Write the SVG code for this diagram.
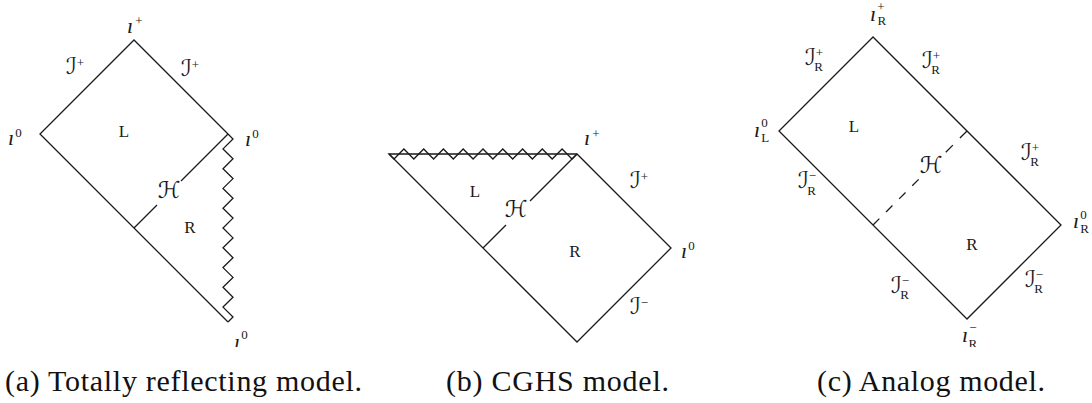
<svg xmlns="http://www.w3.org/2000/svg" width="1092" height="403" viewBox="0 0 1092 403">
<style>
.ln{fill:none;stroke:#1a1a1a;stroke-width:1.3;stroke-linejoin:miter;stroke-linecap:butt}
.dash{fill:none;stroke:#1a1a1a;stroke-width:1.3;stroke-dasharray:9 9.5}
.m{font-family:"Liberation Serif","Times New Roman",serif;font-size:17px;fill:#1a1a1a}
.it{font-family:"Liberation Serif","Times New Roman",serif;font-style:italic;font-size:22px;fill:#1a1a1a}
.cal{font-family:"DejaVu Serif","DejaVu Sans",serif;font-style:italic;font-size:23px;fill:#1a1a1a}
.s{font-family:"Liberation Serif","Times New Roman",serif;font-style:normal;font-size:13px;fill:#1a1a1a}
.cap{font-family:"Liberation Serif","Times New Roman",serif;font-size:30px;fill:#111}
</style>
<defs>
<clipPath id="clipfig"><rect x="0" y="0" width="1092" height="347"/></clipPath>
</defs>

<g id="connectors">
  <!-- (a) -->
  <polyline class="ln" points="228,134 134,40 40,134 228,322"/>
  <polyline class="ln" points="228,134 233,139 223,148.9 233,158.8 223,168.7 233,178.6 223,188.4 233,198.3 223,208.2 233,218.1 223,228 233,237.9 223,247.8 233,257.7 223,267.6 233,277.4 223,287.3 233,297.2 223,307.1 233,317 228,322"/>
  <line class="ln" x1="134" y1="228" x2="157" y2="205"/>
  <line class="ln" x1="181" y1="181" x2="228" y2="134"/>
  <!-- (b) -->
  <polyline class="ln" points="389,154 394,159 403.9,149 413.8,159 423.7,149 433.6,159 443.4,149 453.3,159 463.2,149 473.1,159 483,149 492.9,159 502.8,149 512.7,159 522.6,149 532.4,159 542.3,149 552.2,159 562.1,149 572,159 577,154"/>
  <polygon class="ln" points="389,154 577,342 671,248 577,154"/>
  <line class="ln" x1="483" y1="248" x2="506" y2="225"/>
  <line class="ln" x1="530" y1="201" x2="577" y2="154"/>
  <!-- (c) -->
  <polygon class="ln" points="873,37 779,131 967,319 1061,225"/>
  <line class="dash" x1="967" y1="131" x2="943" y2="155" style="stroke-dasharray:10 10"/>
  <line class="dash" x1="873" y1="225" x2="920" y2="178"/>
</g>

<g id="labels-a" clip-path="url(#clipfig)">
  <text id="a-iplus" class="it" x="127" y="33">ı<tspan class="s" dx="2" dy="-8">+</tspan></text>
  <text id="a-scriplus-left" class="cal" x="66" y="74">ℐ<tspan class="s" dy="-7">+</tspan></text>
  <text id="a-scriplus-right" class="cal" x="181" y="76">ℐ<tspan class="s" dy="-7">+</tspan></text>
  <text id="a-i0-left" class="it" x="8" y="145">ı<tspan class="s" dx="1" dy="-8">0</tspan></text>
  <text id="a-L" class="m" x="124" y="137" text-anchor="middle">L</text>
  <text id="a-i0-right" class="it" x="245" y="146">ı<tspan class="s" dx="1" dy="-8">0</tspan></text>
  <text id="a-H" class="cal" x="169" y="198" text-anchor="middle">ℋ</text>
  <text id="a-R" class="m" x="190" y="233" text-anchor="middle">R</text>
  <text id="a-i0-bottom" class="it" x="234" y="349">ı<tspan class="s" dx="1" dy="-10">0</tspan></text>
</g>

<g id="labels-b">
  <text id="b-iplus" class="it" x="584" y="145">ı<tspan class="s" dx="2" dy="-7">+</tspan></text>
  <text id="b-scriplus" class="cal" x="630" y="188">ℐ<tspan class="s" dy="-7">+</tspan></text>
  <text id="b-L" class="m" x="475" y="197" text-anchor="middle">L</text>
  <text id="b-H" class="cal" x="516" y="217" text-anchor="middle">ℋ</text>
  <text id="b-R" class="m" x="575" y="257" text-anchor="middle">R</text>
  <text id="b-i0" class="it" x="681" y="258">ı<tspan class="s" dx="1" dy="-8">0</tspan></text>
  <text id="b-scriminus" class="cal" x="630" y="314">ℐ<tspan class="s" dy="-7">−</tspan></text>
</g>

<g id="labels-c" clip-path="url(#clipfig)">
  <text id="c-iRplus" class="it" x="870" y="21">ı<tspan class="s" dx="1" dy="-10">+</tspan><tspan class="s" dx="-7" dy="14">R</tspan></text>
  <text id="c-scrRplus-left" class="cal" x="805" y="65">ℐ<tspan class="s" dy="-8">+</tspan><tspan class="s" dx="-9" dy="14">R</tspan></text>
  <text id="c-scrRplus-top" class="cal" x="922" y="68">ℐ<tspan class="s" dy="-8">+</tspan><tspan class="s" dx="-9" dy="14">R</tspan></text>
  <text id="c-iL0" class="it" x="754" y="137">ı<tspan class="s" dx="1" dy="-10">0</tspan><tspan class="s" dx="-6.5" dy="15">L</tspan></text>
  <text id="c-L" class="m" x="854" y="132" text-anchor="middle">L</text>
  <text id="c-scrRplus-right" class="cal" x="1021" y="160">ℐ<tspan class="s" dy="-8">+</tspan><tspan class="s" dx="-9" dy="14">R</tspan></text>
  <text id="c-scrRminus-left" class="cal" x="798" y="188">ℐ<tspan class="s" dy="-8">−</tspan><tspan class="s" dx="-9" dy="15">R</tspan></text>
  <text id="c-H" class="cal" x="931" y="173" text-anchor="middle">ℋ</text>
  <text id="c-iR0" class="it" x="1073" y="228">ı<tspan class="s" dx="1" dy="-9">0</tspan><tspan class="s" dx="-6.5" dy="14">R</tspan></text>
  <text id="c-R" class="m" x="972" y="250" text-anchor="middle">R</text>
  <text id="c-scrRminus-bl" class="cal" x="891" y="293">ℐ<tspan class="s" dy="-8">−</tspan><tspan class="s" dx="-9" dy="14">R</tspan></text>
  <text id="c-scrRminus-br" class="cal" x="1025" y="287">ℐ<tspan class="s" dy="-8">−</tspan><tspan class="s" dx="-9" dy="14">R</tspan></text>
  <text id="c-iRminus" class="it" x="962" y="342">ı<tspan class="s" dx="1" dy="-10">−</tspan><tspan class="s" dx="-8" dy="16">R</tspan></text>
</g>

<g id="captions">
  <text class="cap" x="5" y="391" textLength="357">(a) Totally reflecting model.</text>
  <text class="cap" x="446" y="391" textLength="223">(b) CGHS model.</text>
  <text class="cap" x="817" y="391" textLength="228">(c) Analog model.</text>
</g>
</svg>
